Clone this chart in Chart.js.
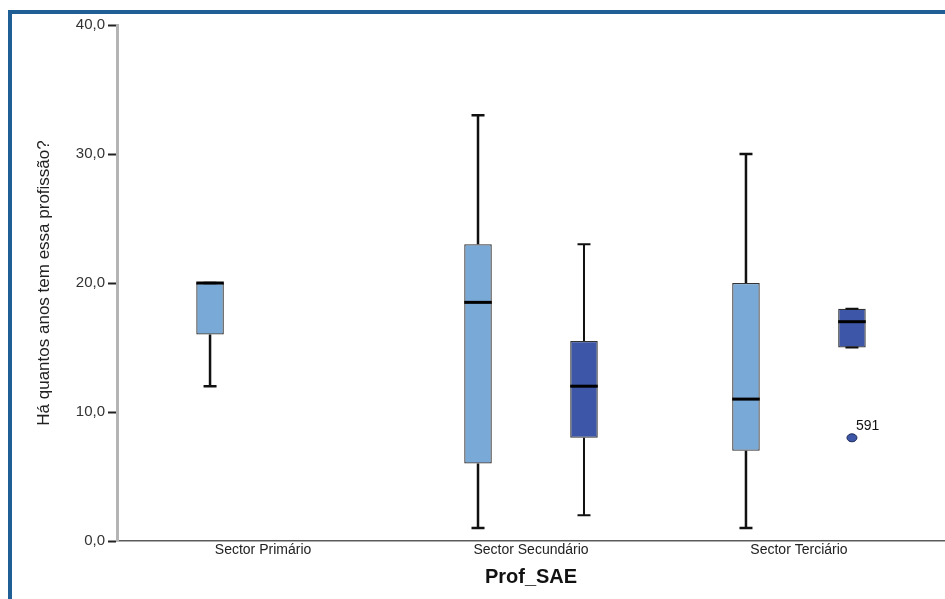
<!DOCTYPE html>
<html>
<head>
<meta charset="utf-8">
<script src="https://cdn.jsdelivr.net/npm/chart.js@4.4.1/dist/chart.umd.min.js"></script>
<style>
  html, body { margin: 0; padding: 0; background: #fff; overflow: hidden; }
  #frame { position: absolute; left: 8px; top: 10px; width: 1000px; height: 700px;
           border: 4px solid #1f5f95; box-sizing: border-box; }
  #wrap { position: absolute; left: 0; top: 0; width: 945px; height: 599px; }
</style>
</head>
<body>
<div id="frame"></div>
<div id="wrap"><canvas id="chart" width="945" height="599"></canvas></div>
<script>
// categories on the x axis
const categories = ["Sector Primário", "Sector Secundário", "Sector Terciário"];

// light blue boxes (first series)
const lightMin    = [12, 1, 1];
const lightQ1     = [16, 6, 7];
const lightMedian = [20, 18.5, 11];
const lightQ3     = [20, 23, 20];
const lightMax    = [20, 33, 30];

// dark blue boxes (second series), none for Sector Primário
const darkMin    = [null, 2, 15];
const darkQ1     = [null, 8, 15];
const darkMedian = [null, 12, 17];
const darkQ3     = [null, 15.5, 18];
const darkMax    = [null, 23, 18];

// outliers (dark series)
const outlierCategory = [2];
const outlierValue = [8];
const outlierLabel = ["591"];

const yTicks = [0, 10, 20, 30, 40];

const series = [
  { color: "#79a9d7", min: lightMin, q1: lightQ1, med: lightMedian, q3: lightQ3, max: lightMax, whisker: 2.5 },
  { color: "#3d56a8", min: darkMin, q1: darkQ1, med: darkMedian, q3: darkQ3, max: darkMax, whisker: 2 }
];

function boxData(s) {
  const out = [];
  categories.forEach((c, i) => {
    if (s.q1[i] != null) out.push({ x: i, y: [s.q1[i], s.q3[i]] });
  });
  return out;
}

const FONT = "'Liberation Sans', Arial, sans-serif";

const boxPlugin = {
  id: "boxExtras",
  afterDatasetsDraw(chart) {
    const ctx = chart.ctx;
    const y = chart.scales.y;
    ctx.save();
    series.forEach((s, d) => {
      const meta = chart.getDatasetMeta(d);
      const data = chart.data.datasets[d].data;
      meta.data.forEach((el, j) => {
        const i = data[j].x;
        const x = el.x;
        const half = el.width / 2;
        const cap = 6.5;
        ctx.strokeStyle = "#111";
        ctx.lineWidth = s.whisker;
        ctx.beginPath();
        // upper whisker
        if (s.max[i] > s.q3[i]) {
          ctx.moveTo(x, y.getPixelForValue(s.q3[i]));
          ctx.lineTo(x, y.getPixelForValue(s.max[i]));
        }
        ctx.moveTo(x - cap, y.getPixelForValue(s.max[i]));
        ctx.lineTo(x + cap, y.getPixelForValue(s.max[i]));
        // lower whisker
        if (s.min[i] < s.q1[i]) {
          ctx.moveTo(x, y.getPixelForValue(s.q1[i]));
          ctx.lineTo(x, y.getPixelForValue(s.min[i]));
        }
        ctx.moveTo(x - cap, y.getPixelForValue(s.min[i]));
        ctx.lineTo(x + cap, y.getPixelForValue(s.min[i]));
        ctx.stroke();
        // median
        ctx.lineWidth = 3;
        ctx.strokeStyle = "#000";
        ctx.beginPath();
        ctx.moveTo(x - half, y.getPixelForValue(s.med[i]));
        ctx.lineTo(x + half, y.getPixelForValue(s.med[i]));
        ctx.stroke();
      });
      if (d === 1) {
        const xs = chart.scales.x;
        outlierValue.forEach((v, k) => {
          const el = meta.data[data.findIndex(p => p.x === outlierCategory[k])];
          const px = el ? el.x : xs.getPixelForValue(outlierCategory[k]);
          const py = y.getPixelForValue(v);
          ctx.beginPath();
          ctx.ellipse(px, py, 5, 4, 0, 0, Math.PI * 2);
          ctx.fillStyle = s.color;
          ctx.fill();
          ctx.lineWidth = 1;
          ctx.strokeStyle = "#1c2a55";
          ctx.stroke();
          ctx.fillStyle = "#111";
          ctx.font = "14px " + FONT;
          ctx.textAlign = "left";
          ctx.textBaseline = "bottom";
          ctx.fillText(outlierLabel[k], px + 4, py - 5);
        });
      }
    });
    ctx.restore();
  }
};

new Chart(document.getElementById("chart"), {
  type: "bar",
  data: {
    datasets: series.map(s => ({
      data: boxData(s),
      backgroundColor: s.color,
      borderColor: "#333",
      borderWidth: 1.3,
      borderSkipped: false,
      categoryPercentage: 0.791,
      barPercentage: 0.26
    }))
  },
  options: {
    responsive: false,
    animation: false,
    devicePixelRatio: 1,
    layout: { padding: { top: 25, right: 0, left: 0, bottom: 0 } },
    plugins: { legend: { display: false }, tooltip: { enabled: false } },
    scales: {
      x: {
        type: "linear",
        offset: false,
        min: -0.545,
        max: 2.545,
        afterBuildTicks: s => { s.ticks = categories.map((c, i) => ({ value: i })); },
        afterFit: s => { s.height = 58; },
        grid: { display: false, drawTicks: false, tickLength: 0 },
        border: { color: "#5a5a5a", width: 1.5 },
        ticks: {
          autoSkip: false,
          maxRotation: 0,
          padding: 1,
          color: "#222",
          font: { family: FONT, size: 14 },
          callback: v => categories[v]
        },
        title: {
          display: true,
          text: "Prof_SAE",
          color: "#111",
          font: { family: FONT, size: 20, weight: "bold" },
          padding: { top: 0, bottom: 10 }
        }
      },
      y: {
        min: 0,
        max: 40,
        afterBuildTicks: s => { s.ticks = yTicks.map(v => ({ value: v })); },
        afterFit: s => { s.width = 117; },
        grid: { drawOnChartArea: false, tickLength: 9, tickColor: "#222", tickWidth: 2 },
        border: { color: "#b4b4b4", width: 3 },
        ticks: {
          padding: 3,
          color: "#333",
          font: { family: FONT, size: 15 },
          callback: v => v.toFixed(1).replace(".", ",")
        },
        title: {
          display: true,
          text: "Há quantos anos tem essa profissão?",
          color: "#222",
          font: { family: FONT, size: 17 },
          padding: { top: 34, bottom: 0 }
        }
      }
    }
  },
  plugins: [boxPlugin]
});
</script>
</body>
</html>
